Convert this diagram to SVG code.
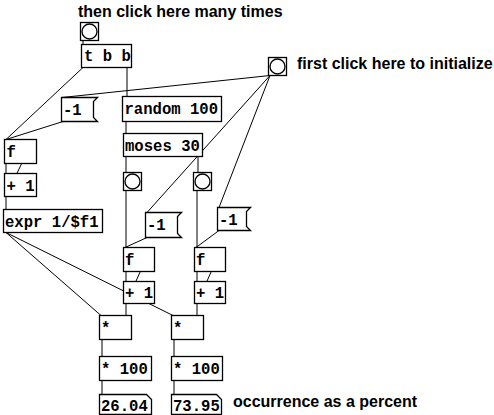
<svg xmlns="http://www.w3.org/2000/svg" width="494" height="415" viewBox="0 0 494 415">
<style>
.box{fill:#fff;stroke:#000;stroke-width:1.3}
.t{font-family:"Liberation Mono","DejaVu Sans Mono",monospace;font-weight:bold;font-size:15.6px;fill:#000}
.lbl{font-family:"Liberation Sans",Arial,sans-serif;font-weight:bold;font-size:16px;fill:#000}
.c{stroke:#000;stroke-width:1;fill:none}
.bg{fill:#fff;stroke:#000;stroke-width:1.3}
</style>
<rect x="0" y="0" width="494" height="415" fill="#fff"/>
<text class="lbl" x="78" y="17">then click here many times</text>
<text class="lbl" x="297" y="69">first click here to initialize</text>
<text class="lbl" x="233" y="407">occurrence as a percent</text>
<g id="connectors">
<path class="c" d="M83,40.5 V44.5"/>
<path class="c" d="M83,67.5 L6,139.5"/>
<path class="c" d="M127,67.5 V96.5"/>
<path class="c" d="M63,121.5 L6,139.5"/>
<path class="c" d="M270,75.5 L62,97.5"/>
<path class="c" d="M270,75.5 L147,212.5"/>
<path class="c" d="M270,75.5 L219,207.5"/>
<path class="c" d="M126,121.5 V133.5"/>
<path class="c" d="M126,156.5 V172.5"/>
<path class="c" d="M198,156.5 V172.5"/>
<path class="c" d="M126,190.5 V247.5"/>
<path class="c" d="M197,190.5 V247.5"/>
<path class="c" d="M147,237.5 L125,247.5"/>
<path class="c" d="M219,230.5 L196,247.5"/>
<path class="c" d="M6,163.5 V173.5"/>
<path class="c" d="M6,196.5 L33,139.5"/>
<path class="c" d="M6,196.5 V209.5"/>
<path class="c" d="M6,232.5 L101,315.5"/>
<path class="c" d="M6,232.5 L173,315.5"/>
<path class="c" d="M126,271.5 V281.5"/>
<path class="c" d="M126,303.5 L151,247.5"/>
<path class="c" d="M126,303.5 V315.5"/>
<path class="c" d="M197,271.5 V281.5"/>
<path class="c" d="M197,303.5 L222,247.5"/>
<path class="c" d="M197,303.5 V315.5"/>
<path class="c" d="M102,339.5 V356.5"/>
<path class="c" d="M174,339.5 V356.5"/>
<path class="c" d="M102,380.5 V394.5"/>
<path class="c" d="M174,380.5 V394.5"/>
</g>
<g id="bang-many"><rect class="bg" x="80.5" y="22.5" width="18" height="18"/><circle class="bg" cx="89.5" cy="31.5" r="7.5"/></g>
<g id="trigger"><rect class="box" x="81.5" y="44.5" width="50" height="23"/><text class="t" x="84" y="61">t b b</text></g>
<g id="msg-init-left"><path class="box" d="M61.5,97.5 H97.5 L93.5,101.5 V117.5 L97.5,121.5 H61.5 Z"/><text class="t" x="63" y="115">-1</text></g>
<g id="bang-init"><rect class="bg" x="268.5" y="57.5" width="18" height="18"/><circle class="bg" cx="277.5" cy="66.5" r="7.5"/></g>
<g id="random"><rect class="box" x="122.5" y="96.5" width="99" height="25"/><text class="t" x="124.5" y="114">random 100</text></g>
<g id="moses"><rect class="box" x="123.5" y="133.5" width="79" height="23"/><text class="t" x="125" y="151">moses 30</text></g>
<g id="bang-low"><rect class="bg" x="123.5" y="172.5" width="18" height="18"/><circle class="bg" cx="132.5" cy="181.5" r="7.5"/></g>
<g id="bang-high"><rect class="bg" x="193.5" y="172.5" width="18" height="18"/><circle class="bg" cx="202.5" cy="181.5" r="7.5"/></g>
<g id="msg-init-mid"><path class="box" d="M145.5,212.5 H181.5 L177.5,216.5 V233.5 L181.5,237.5 H145.5 Z"/><text class="t" x="147" y="230">-1</text></g>
<g id="msg-init-right"><path class="box" d="M217.5,207.5 H250.5 L246.5,211.5 V226.5 L250.5,230.5 H217.5 Z"/><text class="t" x="219" y="225">-1</text></g>
<g id="f-total"><rect class="box" x="4.5" y="139.5" width="32" height="24"/><text class="t" x="6.5" y="157">f</text></g>
<g id="add-total"><rect class="box" x="4.5" y="173.5" width="32" height="23"/><text class="t" x="6.5" y="191">+ 1</text></g>
<g id="expr"><rect class="box" x="3.5" y="209.5" width="99" height="23"/><text class="t" x="5" y="227">expr 1/$f1</text></g>
<g id="f-low"><rect class="box" x="123.5" y="247.5" width="31" height="24"/><text class="t" x="125" y="265">f</text></g>
<g id="f-high"><rect class="box" x="194.5" y="247.5" width="31" height="24"/><text class="t" x="196" y="265">f</text></g>
<g id="add-low"><rect class="box" x="123.5" y="281.5" width="31" height="22"/><text class="t" x="125" y="298">+ 1</text></g>
<g id="add-high"><rect class="box" x="194.5" y="281.5" width="31" height="22"/><text class="t" x="196" y="298">+ 1</text></g>
<g id="mul-low"><rect class="box" x="99.5" y="315.5" width="32" height="24"/><text class="t" x="101" y="333">*</text></g>
<g id="mul-high"><rect class="box" x="171.5" y="315.5" width="32" height="24"/><text class="t" x="173" y="333">*</text></g>
<g id="pct-low"><rect class="box" x="99.5" y="356.5" width="52" height="24"/><text class="t" x="101" y="374">* 100</text></g>
<g id="pct-high"><rect class="box" x="171.5" y="356.5" width="51" height="24"/><text class="t" x="173" y="374">* 100</text></g>
<g id="num-low"><path class="box" d="M99.5,394.5 H146.5 L151.5,399.5 V414.5 H99.5 Z"/><text class="t" x="101" y="411">26.04</text></g>
<g id="num-high"><path class="box" d="M171.5,394.5 H216.5 L221.5,399.5 V414.5 H171.5 Z"/><text class="t" x="173" y="411">73.95</text></g>
</svg>
